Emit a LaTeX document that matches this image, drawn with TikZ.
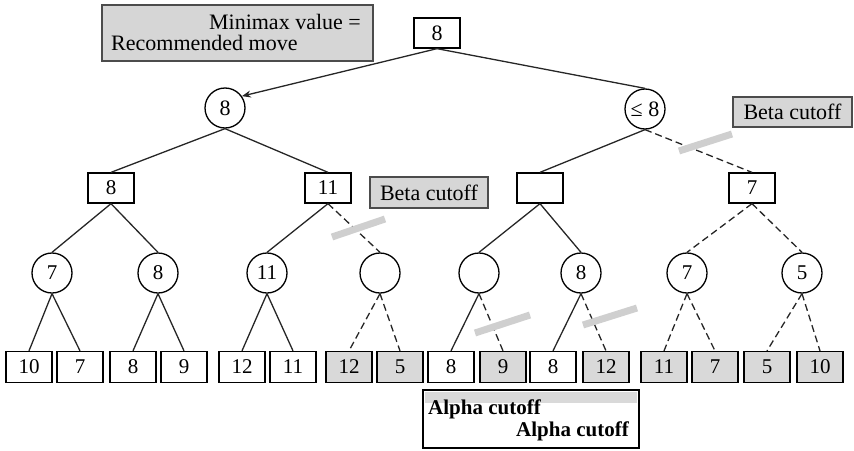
\documentclass[tikz,border=0pt]{standalone}
\usepackage{fontspec}
\setmainfont{Liberation Serif}
\usetikzlibrary{arrows.meta}
\definecolor{cutgrey}{HTML}{D9D9D9}
\definecolor{bargrey}{HTML}{CFCFCF}
\definecolor{notegrey}{HTML}{D6D6D6}
\begin{document}
\begin{tikzpicture}[x=1pt,y=-1pt,
  every node/.style={font=\fontsize{21}{23}\selectfont, inner sep=0pt},
  sq/.style={draw=black, line width=1.3pt, rectangle, minimum width=46pt, minimum height=30pt},
  lf/.style={sq, minimum height=31pt},
  pruned/.style={fill=cutgrey},
  rnd/.style={draw=black, line width=1.3pt, circle, minimum size=40pt},
  edge/.style={line width=1.3pt, draw=black!85},
  dedge/.style={edge, dash pattern=on 7pt off 4pt},
  cutbar/.style={line width=7pt, draw=bargrey},
  note/.style={draw=black!70, line width=1.6pt, fill=notegrey, font=\fontsize{22}{24}\selectfont}
]
\useasboundingbox (0,0) rectangle (854,450);

% notes
\node[note, minimum width=271pt, minimum height=56pt] (mm) at (237.5,33) {};
\node[anchor=east, font=\fontsize{22}{24}\selectfont] (mmA) at (361,22) {Minimax value =};
\node[anchor=west, font=\fontsize{22}{24}\selectfont] (mmB) at (111,43) {Recommended move};
\node[note, minimum width=119pt, minimum height=30pt] (beta1) at (792.5,112) {Beta cutoff};
\node[note, minimum width=118pt, minimum height=31pt] (beta2) at (429,192.5) {Beta cutoff};

% alpha box
\node[draw=black, line width=2pt, fill=white, minimum width=216pt, minimum height=58pt] (alpha) at (531,419) {};
\fill[cutgrey] (425,392) rectangle (637,403);
\node[anchor=west, font=\bfseries\fontsize{21}{23}\selectfont] (al1) at (428,409) {Alpha cutoff};
\node[anchor=east, font=\bfseries\fontsize{21}{23}\selectfont] (al2) at (629,431) {Alpha cutoff};

% tree
\node[sq, font=\fontsize{22}{24}\selectfont] (r) at (437,33) {8};
\node[rnd, font=\fontsize{22}{24}\selectfont] (a) at (225,108) {8};
\node[rnd, font=\fontsize{22}{24}\selectfont] (b) at (645,109) {≤ 8};
\node[sq] (a1) at (111,188) {8};
\node[sq] (a2) at (328,188) {11};
\node[sq] (b1) at (540,188) {};
\node[sq] (b2) at (752,188) {7};

\node[rnd] (c1) at (52,273) {7};
\node[rnd] (c2) at (158,273) {8};
\node[rnd] (c3) at (267,273) {11};
\node[rnd] (c4) at (380,273) {};
\node[rnd] (c5) at (479,273) {};
\node[rnd] (c6) at (581,273) {8};
\node[rnd] (c7) at (687,273) {7};
\node[rnd] (c8) at (802,273) {5};

\node[lf] (l1) at (29,367) {10};
\node[lf] (l2) at (80,367) {7};
\node[lf] (l3) at (133,367) {8};
\node[lf] (l4) at (184,367) {9};
\node[lf] (l5) at (242,367) {12};
\node[lf] (l6) at (293,367) {11};
\node[lf,pruned] (l7) at (349,367) {12};
\node[lf,pruned] (l8) at (400,367) {5};
\node[lf] (l9) at (451,367) {8};
\node[lf,pruned] (l10) at (503,367) {9};
\node[lf] (l11) at (553,367) {8};
\node[lf,pruned] (l12) at (606,367) {12};
\node[lf,pruned] (l13) at (664,367) {11};
\node[lf,pruned] (l14) at (715,367) {7};
\node[lf,pruned] (l15) at (767,367) {5};
\node[lf,pruned] (l16) at (820,367) {10};

% edges
\draw[edge,-{Stealth[length=9pt,width=7pt]}] (r.south) -- (a.35);
\draw[edge] (r.south) -- (b.north);
\draw[edge] (a.south) -- (a1.north);
\draw[edge] (a.south) -- (a2.north);
\draw[edge] (b.south) -- (b1.north);
\draw[dedge] (b.south) -- (b2.north);

\draw[edge] (a1.south) -- (c1.north);
\draw[edge] (a1.south) -- (c2.north);
\draw[edge] (a2.south) -- (c3.north);
\draw[dedge] (a2.south) -- (c4.north);
\draw[edge] (b1.south) -- (c5.north);
\draw[edge] (b1.south) -- (c6.north);
\draw[dedge] (b2.south) -- (c7.north);
\draw[dedge] (b2.south) -- (c8.north);

\draw[edge] (c1.south) -- (l1.north);
\draw[edge] (c1.south) -- (l2.north);
\draw[edge] (c2.south) -- (l3.north);
\draw[edge] (c2.south) -- (l4.north);
\draw[edge] (c3.south) -- (l5.north);
\draw[edge] (c3.south) -- (l6.north);
\draw[dedge] (c4.south) -- (l7.north);
\draw[dedge] (c4.south) -- (l8.north);
\draw[edge] (c5.south) -- (l9.north);
\draw[dedge] (c5.south) -- (l10.north);
\draw[edge] (c6.south) -- (l11.north);
\draw[dedge] (c6.south) -- (l12.north);
\draw[dedge] (c7.south) -- (l13.north);
\draw[dedge] (c7.south) -- (l14.north);
\draw[dedge] (c8.south) -- (l15.north);
\draw[dedge] (c8.south) -- (l16.north);

% cutoff bars
\draw[cutbar] (679,151) -- (732,134);
\draw[cutbar] (332,237) -- (385,219);
\draw[cutbar] (475,333) -- (530,315);
\draw[cutbar] (583,325) -- (637,308);
\end{tikzpicture}
\end{document}
